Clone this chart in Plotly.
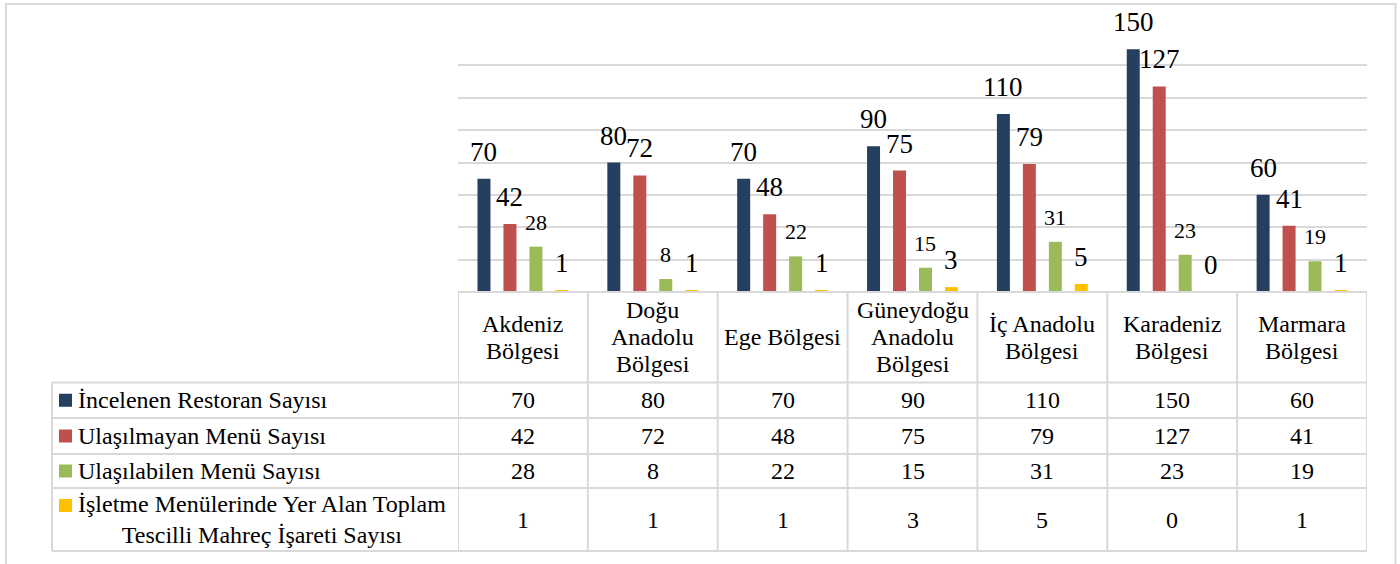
import plotly.graph_objects as go

W, H = 1400, 564

# ---------------- data ----------------
categories = ["Akdeniz Bölgesi", "Doğu Anadolu Bölgesi", "Ege Bölgesi",
              "Güneydoğu Anadolu Bölgesi", "İç Anadolu Bölgesi",
              "Karadeniz Bölgesi", "Marmara Bölgesi"]
category_lines = [["Akdeniz", "Bölgesi"], ["Doğu", "Anadolu", "Bölgesi"],
                  ["Ege Bölgesi"], ["Güneydoğu", "Anadolu", "Bölgesi"],
                  ["İç Anadolu", "Bölgesi"], ["Karadeniz", "Bölgesi"],
                  ["Marmara", "Bölgesi"]]
series_names = ["İncelenen Restoran Sayısı", "Ulaşılmayan Menü Sayısı",
                "Ulaşılabilen Menü Sayısı",
                "İşletme Menülerinde Yer Alan Toplam Tescilli Mahreç İşareti Sayısı"]
series_labels = ["İncelenen Restoran Sayısı", "Ulaşılmayan Menü Sayısı",
                 "Ulaşılabilen Menü Sayısı",
                 "İşletme Menülerinde Yer Alan Toplam<br>Tescilli Mahreç İşareti Sayısı"]
incelenen = [70, 80, 70, 90, 110, 150, 60]
ulasilmayan = [42, 72, 48, 75, 79, 127, 41]
ulasilabilen = [28, 8, 22, 15, 31, 23, 19]
mahrec = [1, 1, 1, 3, 5, 0, 1]
series_values = [incelenen, ulasilmayan, ulasilabilen, mahrec]

# ---------------- style ----------------
colors = ["#243F60", "#C0504D", "#9BBB59", "#FFC000"]
label_sizes = [27, 27, 22, 27]
FONT = "Liberation Serif, Times New Roman, serif"
LINE = "#D9D9D9"
BARGAP = 0.2

def px(x):
    return x / W

def py(y):
    return 1 - y / H

plot_left, plot_right = 458, 1367
plot_bottom, plot_top = 292, 33
table_left = 52
row_edges = [382.5, 418, 454, 488, 551]

fig = go.Figure()
for name, vals, col in zip(series_names, series_values, colors):
    fig.add_trace(go.Bar(x=categories, y=vals, name=name, marker_color=col,
                         marker_line_width=0, showlegend=False,
                         hoverinfo="x+y+name"))

annotations = []
shapes = []

# data labels above bars
nser = len(series_values)
slot = (1 - BARGAP) / nser
for j, vals in enumerate(series_values):
    off = (j - (nser - 1) / 2) * slot
    for i, v in enumerate(vals):
        annotations.append(dict(x=i + off, y=v, xref="x", yref="y",
                                text=str(v), showarrow=False,
                                xanchor="center", yanchor="bottom", yshift=10,
                                font=dict(family=FONT, size=label_sizes[j], color="black")))

# table: header category labels (per line)
head_c = (plot_bottom + row_edges[0]) / 2
LS = 27
for i, lines in enumerate(category_lines):
    n = len(lines)
    for k, t in enumerate(lines):
        annotations.append(dict(x=i, y=py(head_c), xref="x", yref="paper",
                                text=t, showarrow=False, xanchor="center",
                                yanchor="middle", yshift=((n - 1) / 2 - k) * LS,
                                font=dict(family=FONT, size=24, color="black")))

# table: rows
for r, (lab, vals, col) in enumerate(zip(series_labels, series_values, colors)):
    top, bot = row_edges[r], row_edges[r + 1]
    c = (top + bot) / 2
    for i, v in enumerate(vals):
        annotations.append(dict(x=i, y=py(c), xref="x", yref="paper",
                                text=str(v), showarrow=False, xanchor="center",
                                yanchor="middle",
                                font=dict(family=FONT, size=24, color="black")))
    nl = lab.count("<br>") + 1
    annotations.append(dict(x=px(76), y=py(c), xref="paper", yref="paper",
                            text=lab, showarrow=False, xanchor="left",
                            yanchor="middle", align="center",
                            font=dict(family=FONT, size=24, color="black")))
    sq_c = c - (nl - 1) * 14
    shapes.append(dict(type="rect", xref="paper", yref="paper",
                       x0=px(59), x1=px(72), y0=py(sq_c - 6.5), y1=py(sq_c + 6.5),
                       fillcolor=col, line_width=0))

# table lines
def hline(y, x0, x1):
    shapes.append(dict(type="line", xref="paper", yref="paper",
                       x0=px(x0), x1=px(x1), y0=py(y), y1=py(y),
                       line=dict(color=LINE, width=2)))

hline(plot_bottom, plot_left, plot_right)
for y in row_edges:
    hline(y, table_left, plot_right)
shapes.append(dict(type="line", xref="paper", yref="paper",
                   x0=px(table_left), x1=px(table_left),
                   y0=py(row_edges[0]), y1=py(row_edges[-1]),
                   line=dict(color=LINE, width=2)))
for i in range(len(categories) + 1):
    shapes.append(dict(type="line", xref="x", yref="paper",
                       x0=i - 0.5, x1=i - 0.5,
                       y0=py(plot_bottom), y1=py(row_edges[-1]),
                       line=dict(color=LINE, width=2)))

# outer chart border
shapes.append(dict(type="rect", xref="paper", yref="paper",
                   x0=px(6), x1=px(1395.5), y0=py(4), y1=py(600),
                   line=dict(color=LINE, width=2), fillcolor="rgba(0,0,0,0)"))

fig.update_layout(
    width=W, height=H,
    margin=dict(l=0, r=0, t=0, b=0),
    paper_bgcolor="white", plot_bgcolor="white",
    barmode="group", bargap=BARGAP, bargroupgap=0.5,
    font=dict(family=FONT, size=24, color="black"),
    xaxis=dict(domain=[px(plot_left), px(plot_right)], range=[-0.5, 6.5],
               showticklabels=False, showgrid=False, zeroline=False,
               showline=False, ticks=""),
    yaxis=dict(domain=[py(plot_bottom), py(plot_top)], range=[0, 160],
               dtick=20, showticklabels=False, showgrid=True,
               gridcolor=LINE, gridwidth=1.5, zeroline=False,
               showline=False, ticks=""),
    annotations=annotations,
    shapes=shapes,
)

fig.write_html("out.html")
